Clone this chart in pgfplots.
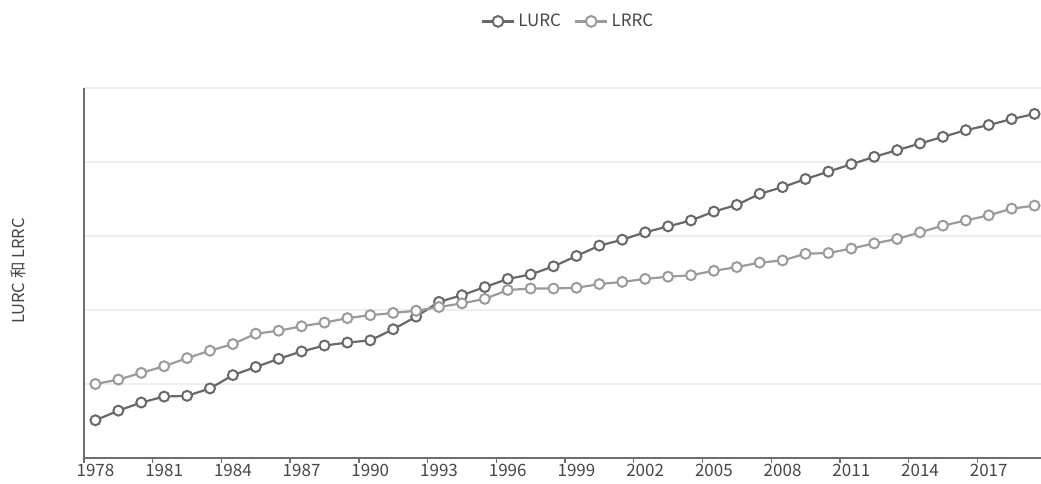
\documentclass[border=0pt]{standalone}
\usepackage{fontspec}
\setmainfont{Noto Sans CJK SC}
\usepackage{pgfplots}
\usepackage{pgfplotstable}
\pgfplotsset{compat=1.18}
\definecolor{lurc}{RGB}{105,105,105}
\definecolor{lrrc}{RGB}{155,155,155}
\definecolor{gridc}{RGB}{238,238,238}
\definecolor{axc}{RGB}{110,110,110}
\definecolor{txt}{RGB}{70,70,70}
\pgfplotstableread{
year lurc lrrc
1978 0.51 1.00
1979 0.64 1.06
1980 0.75 1.15
1981 0.83 1.24
1982 0.84 1.35
1983 0.94 1.45
1984 1.12 1.54
1985 1.23 1.68
1986 1.34 1.72
1987 1.44 1.78
1988 1.52 1.83
1989 1.56 1.89
1990 1.59 1.93
1991 1.74 1.96
1992 1.91 1.99
1993 2.11 2.04
1994 2.20 2.09
1995 2.31 2.15
1996 2.42 2.27
1997 2.48 2.29
1998 2.59 2.29
1999 2.73 2.30
2000 2.87 2.35
2001 2.95 2.38
2002 3.05 2.42
2003 3.13 2.45
2004 3.21 2.47
2005 3.33 2.53
2006 3.42 2.58
2007 3.57 2.64
2008 3.66 2.67
2009 3.77 2.76
2010 3.87 2.77
2011 3.97 2.83
2012 4.07 2.90
2013 4.16 2.96
2014 4.25 3.05
2015 4.34 3.14
2016 4.43 3.21
2017 4.50 3.28
2018 4.58 3.37
2019 4.65 3.41
}\datatable
\begin{document}
\begin{tikzpicture}[x=1pt,y=1pt]
\begin{axis}[
  at={(84pt,25pt)}, anchor=south west,
  scale only axis, width=962pt, height=370pt,
  xmin=1977.5, xmax=2019.5, ymin=0, ymax=5,
  axis x line=bottom, axis y line=left,
  axis line style={draw=axc, line width=1.5pt, -},
  xtick={1978,1981,...,2017},
  /pgf/number format/1000 sep={},
  /pgf/number format/assume math mode=true,
  x tick label style={font=\fontsize{17}{20}\selectfont, text=txt, yshift=-3pt},
  major tick length=0pt,
  extra x ticks={1977.5,1980.5,...,2016.5},
  extra x tick labels={},
  extra x tick style={major tick length=5pt, tick align=outside, tick style={draw=axc, line width=1.3pt}},
  ytick={1,2,3,4,5},
  yticklabels={},
  ytick style={draw=none},
  ymajorgrids,
  major grid style={draw=gridc, line width=1.2pt},
  ylabel={LURC 和 LRRC},
  ylabel style={at={(axis description cs:-0.0686,0.505)}, anchor=center, font=\fontsize{16.5}{19}\selectfont, text=txt},
  legend columns=2,
  legend style={at={(axis description cs:0.5036,1.18)}, anchor=center, draw=none, fill=none,
    font=\fontsize{17}{20}\selectfont, text=txt,
    nodes={inner xsep=3pt},
    /tikz/every even column/.append style={column sep=10pt}},
  legend image code/.code={\draw[#1, line width=2.6pt, mark repeat=2, mark phase=2, mark size=5.4pt] plot coordinates {(0pt,0pt)(16pt,0pt)(32pt,0pt)};},
  clip=false,
]
\addplot[color=lurc, line width=2.2pt, mark=*, mark size=5pt, mark options={fill=white, draw=lurc, line width=2pt}] table[x=year, y=lurc] {\datatable};
\addlegendentry{LURC}
\addplot[color=lrrc, line width=2.2pt, mark=*, mark size=5pt, mark options={fill=white, draw=lrrc, line width=2pt}] table[x=year, y=lrrc] {\datatable};
\addlegendentry{LRRC}
\end{axis}
\pgfresetboundingbox
\useasboundingbox (0,0) rectangle (1041,483);
\end{tikzpicture}
\end{document}
